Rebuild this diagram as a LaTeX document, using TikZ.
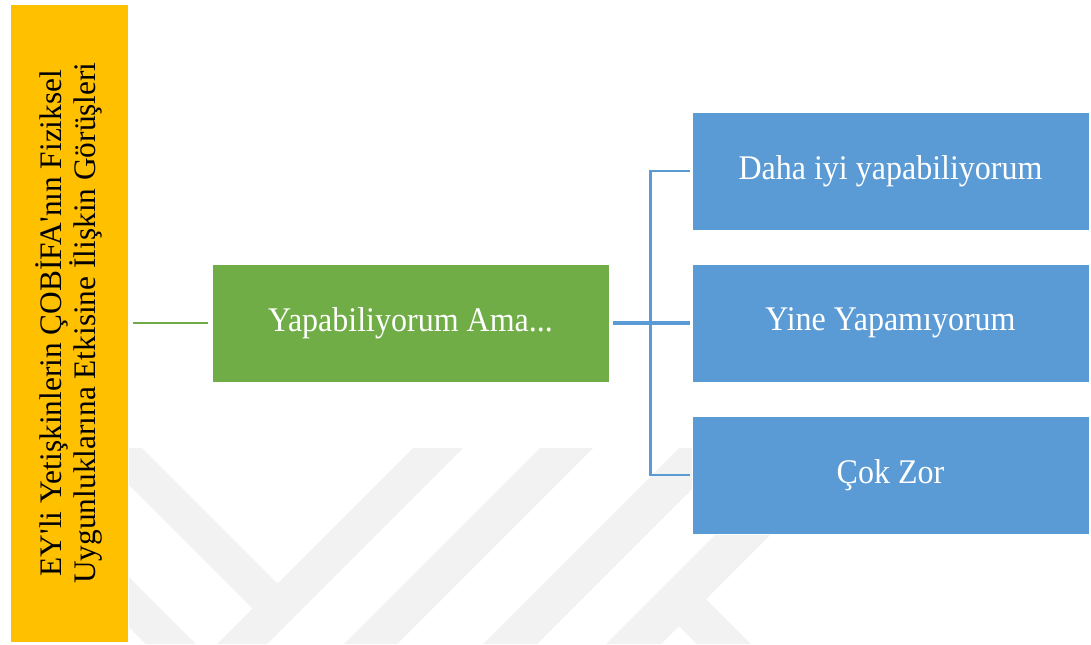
\documentclass[tikz,border=0pt]{standalone}
\usepackage{fontspec}
\setmainfont{Liberation Serif}
\definecolor{ygold}{HTML}{FFC000}
\definecolor{ggreen}{HTML}{70AD47}
\definecolor{bblue}{HTML}{5B9BD5}
\definecolor{wm}{RGB}{242,242,242}
\newcommand{\tallt}[1]{\scalebox{1}[1.08]{#1}}
\begin{document}
\begin{tikzpicture}[x=0.75pt,y=-0.75pt,
  box/.style={rectangle, draw=white, line width=0.75pt, minimum width=297.75pt,
    minimum height=88.5pt, inner sep=0pt, text=white, font=\fontsize{24}{28}\selectfont},
  greenbox/.style={box, fill=ggreen},
  bluebox/.style={box, fill=bblue},
  yellowbox/.style={rectangle, fill=ygold, draw=white, line width=0.75pt, rotate=90,
    minimum width=478.5pt, minimum height=88.5pt, inner sep=0pt, align=center,
    text=black, font=\fontsize{23.5}{23.5}\selectfont},
  greenline/.style={draw=ggreen, line width=2.2pt},
  blueline/.style={draw=bblue, line width=2.3pt},
  bracket/.style={draw=bblue, line width=2pt},
  wmark/.style={fill=wm}]
\fill[white] (0,0) rectangle (1091,644);
\useasboundingbox (0,0) rectangle (1091,644);
% faint watermark
\begin{scope}
  \clip (128,448) rectangle (1091,644);
  \fill[wmark] (92,448) -- (142,448) -- (277.5,583.5) -- (252.5,608.5) -- cycle;
  \fill[wmark] (413,448) -- (463,448) -- (267,644) -- (217,644) -- cycle;
  \fill[wmark] (62,560) -- (112,560) -- (196,644) -- (146,644) -- cycle;
  \fill[wmark] (540,448) -- (593,448) -- (397,644) -- (344,644) -- cycle;
  \fill[wmark] (679,448) -- (733,448) -- (537,644) -- (483,644) -- cycle;
  \fill[wmark] (802,448) -- (857,448) -- (661,644) -- (606,644) -- cycle;
  \fill[wmark] (679,626) -- (706,599) -- (751,644) -- (697,644) -- cycle;
\end{scope}
% nodes
\node[yellowbox] (yel) at (69,323) {EY\textquotesingle li Yetişkinlerin ÇOBİFA\textquotesingle nın Fiziksel\\Uygunluklarına Etkisine İlişkin Görüşleri};
\node[greenbox] (grn) at (410.5,323) {\tallt{Yapabiliyorum Ama...}};
\node[bluebox] (b1) at (890.5,171) {\tallt{Daha iyi yapabiliyorum}};
\node[bluebox] (b2) at (890.5,323) {\tallt{Yine Yapamıyorum}};
\node[bluebox] (b3) at (890.5,475) {\tallt{Çok Zor}};
% connectors
\draw[greenline, shorten <=3pt, shorten >=2.5pt] (yel.south) -- (grn.west);
\draw[blueline, shorten <=2.5pt, shorten >=1.5pt] (grn.east) -- (b2.west);
\draw[bracket, shorten <=1.5pt, shorten >=1.5pt] (b1.west) -- ++(-41,0) |- (b3.west);
\end{tikzpicture}
\end{document}
